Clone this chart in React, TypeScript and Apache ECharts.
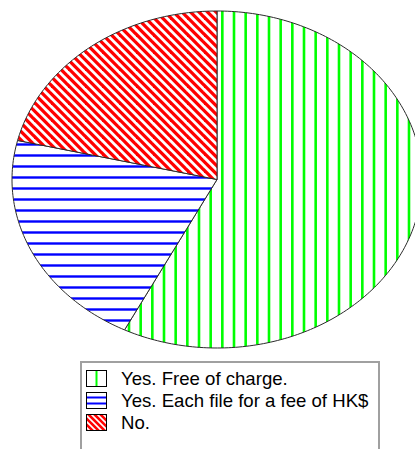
import React, { useEffect, useRef } from "react";
import * as echarts from "echarts";

// Survey answers and their counts
const categories = ["Yes. Free of charge.", "Yes. Each file for a fee of HK$", "No."];
const counts = [27, 10, 10];
const hatchColors = ["#00ff00", "#0000ff", "#ff0000"];

type Pattern = { image: HTMLCanvasElement; repeat: string; imageWidth: number; imageHeight: number };
type Painter = (ctx: CanvasRenderingContext2D, w: number, h: number) => void;

function canvasOf(w: number, h: number, draw: Painter): HTMLCanvasElement {
  const c = document.createElement("canvas");
  c.width = w;
  c.height = h;
  const ctx = c.getContext("2d")!;
  ctx.fillStyle = "#ffffff";
  ctx.fillRect(0, 0, w, h);
  draw(ctx, w, h);
  return c;
}

function tile(w: number, h: number, draw: Painter): Pattern {
  return { image: canvasOf(w, h, draw), repeat: "repeat", imageWidth: w, imageHeight: h };
}

const vLines = (color: string, centers: number[], lw: number): Painter => (ctx, w, h) => {
  ctx.fillStyle = color;
  for (const c of centers) for (const off of [-w, 0, w]) ctx.fillRect(c + off - lw / 2, 0, lw, h);
};

const hLines = (color: string, centers: number[], lw: number): Painter => (ctx, w, h) => {
  ctx.fillStyle = color;
  for (const c of centers) for (const off of [-h, 0, h]) ctx.fillRect(0, c + off - lw / 2, w, lw);
};

// "\" stripes: lines where x - y = phase + k * period
const dLines = (color: string, period: number, phase: number, lw: number): Painter => (ctx, w, h) => {
  ctx.strokeStyle = color;
  ctx.lineWidth = lw;
  const n = Math.ceil((w + h) / period) + 2;
  for (let k = -n; k <= n; k++) {
    const c = phase + k * period;
    ctx.beginPath();
    ctx.moveTo(c - h - 10, -h - 10);
    ctx.lineTo(c + 2 * h + 10, 2 * h + 10);
    ctx.stroke();
  }
};

// Legend swatch: hatch inside a thin black frame
function swatch(w: number, h: number, paint: Painter): string {
  const c = canvasOf(w, h, (ctx) => {
    paint(ctx, w, h);
    ctx.strokeStyle = "#000000";
    ctx.lineWidth = 1;
    ctx.strokeRect(0.5, 0.5, w - 1, h - 1);
  });
  return "image://" + c.toDataURL();
}

export default function App() {
  const ref = useRef<HTMLDivElement>(null);

  useEffect(() => {
    if (!ref.current) return;
    const chart = echarts.init(ref.current, null, { renderer: "svg" });

    const sliceFills = [
      tile(35, 4, vLines(hatchColors[0], [0.67, 12.33, 24], 2.6)),
      tile(4, 11, hLines(hatchColors[1], [1.5], 2.4)),
      tile(17, 17, dLines(hatchColors[2], 8.5, 0, 3.3)),
    ];
    const iconW = 21;
    const iconH = 17;
    const icons = [
      swatch(iconW, iconH, vLines(hatchColors[0], [10.5], 2)),
      swatch(iconW, iconH, hLines(hatchColors[1], [5.5, 11.5], 2)),
      swatch(iconW, iconH, dLines(hatchColors[2], 6, 2, 2.6)),
    ];

    const total = counts.reduce((a, b) => a + b, 0);
    const cx = 217;
    const cy = 179.5;
    const rx = 205;
    const ry = 168.5;

    const renderSlice = (params: any, api: any) => {
      const idx = params.seriesIndex;
      const value = api.value(0) as number;
      let before = 0;
      for (let i = 0; i < idx; i++) before += counts[i];
      const a0 = (before / total) * Math.PI * 2;
      const a1 = ((before + value) / total) * Math.PI * 2;
      const steps = Math.max(8, Math.ceil(((a1 - a0) * 180) / Math.PI));
      const pts: number[][] = [[cx, cy]];
      for (let s = 0; s <= steps; s++) {
        const t = a0 + ((a1 - a0) * s) / steps;
        pts.push([cx + rx * Math.sin(t), cy - ry * Math.cos(t)]);
      }
      return {
        type: "polygon",
        shape: { points: pts },
        style: { fill: sliceFills[idx], stroke: "#2a2a2a", lineWidth: 1 },
      };
    };

    chart.setOption({
      animation: false,
      backgroundColor: "#ffffff",
      graphic: [
        {
          type: "rect",
          z: 0,
          shape: { x: 81, y: 362, width: 298, height: 120 },
          style: { fill: "#ffffff", stroke: "#a0a0a0", lineWidth: 2 },
        },
      ],
      legend: {
        orient: "vertical",
        left: 86,
        top: 369,
        padding: 0,
        itemWidth: iconW,
        itemHeight: iconH,
        itemGap: 3,
        z: 10,
        selectedMode: false,
        textStyle: {
          fontFamily: "Liberation Sans",
          fontSize: 18.6,
          color: "#000000",
          padding: [0, 0, 0, 9],
        },
        data: categories.map((name, i) => ({ name, icon: icons[i] })),
      },
      series: categories.map((name, i) => ({
        type: "custom",
        name,
        coordinateSystem: "none",
        silent: true,
        itemStyle: { color: hatchColors[i] },
        renderItem: renderSlice,
        data: [counts[i]],
      })),
    });

    return () => chart.dispose();
  }, []);

  return (
    <div
      ref={ref}
      style={{ position: "fixed", left: 0, top: 0, width: 415, height: 449, background: "#fff" }}
    />
  );
}
